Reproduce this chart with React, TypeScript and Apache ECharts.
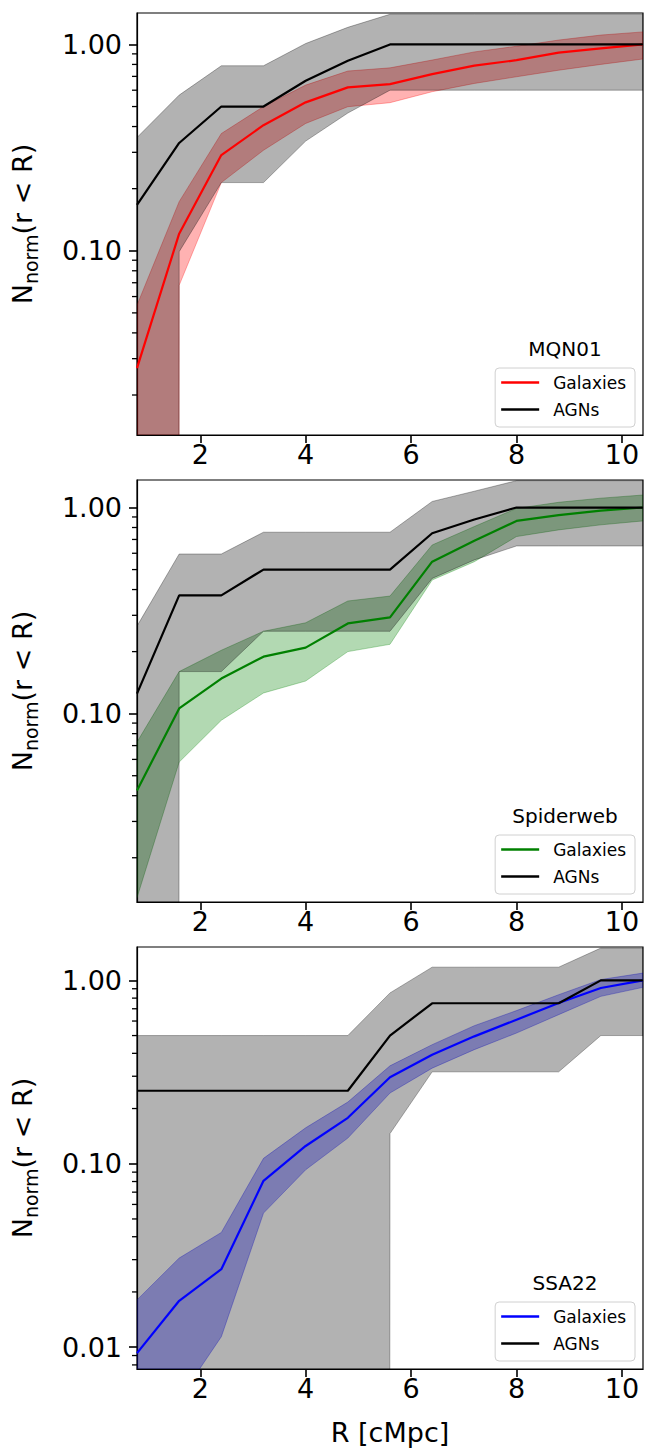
import React, { useEffect, useRef } from 'react';
import * as echarts from 'echarts';

// Radial bins (cMpc)
const radius = [0.8, 1.6, 2.4, 3.2, 4.0, 4.8, 5.6, 6.4, 7.2, 8.0, 8.8, 9.6, 10.4];

const fieldNames = ['MQN01', 'Spiderweb', 'SSA22'];
const galaxyColors = ['#ff0000', '#008000', '#0000ff'];

// MQN01 cumulative normalised counts
const mqnGal = [0.027, 0.121, 0.291, 0.406, 0.524, 0.619, 0.642, 0.718, 0.789, 0.839, 0.912, 0.957, 1.0];
const mqnGalHi = [0.0545, 0.173, 0.37, 0.5, 0.635, 0.743, 0.77, 0.84, 0.92, 0.98, 1.05, 1.11, 1.15];
const mqnGalLo = [0, 0.068, 0.214, 0.307, 0.414, 0.499, 0.522, 0.59, 0.647, 0.697, 0.75, 0.8, 0.85];
const mqnAgn = [0.167, 0.333, 0.5, 0.5, 0.667, 0.833, 1, 1, 1, 1, 1, 1, 1];
const mqnAgnHi = [0.354, 0.568, 0.788, 0.788, 1.01, 1.21, 1.4, 1.4, 1.4, 1.4, 1.4, 1.4, 1.4];
const mqnAgnLo = [0, 0.099, 0.214, 0.214, 0.34, 0.465, 0.6, 0.6, 0.6, 0.6, 0.6, 0.6, 0.6];

// Spiderweb
const spiGal = [0.0424, 0.106, 0.148, 0.189, 0.209, 0.274, 0.293, 0.546, 0.69, 0.861, 0.918, 0.965, 1.0];
const spiGalHi = [0.0728, 0.16, 0.203, 0.251, 0.276, 0.352, 0.372, 0.658, 0.809, 0.99, 1.06, 1.11, 1.15];
const spiGalLo = [0.0128, 0.0582, 0.0929, 0.126, 0.144, 0.2, 0.217, 0.445, 0.546, 0.723, 0.779, 0.824, 0.861];
const spiAgn = [0.125, 0.375, 0.375, 0.5, 0.5, 0.5, 0.5, 0.75, 0.875, 1, 1, 1, 1];
const spiAgnHi = [0.266, 0.595, 0.595, 0.759, 0.759, 0.759, 0.759, 1.07, 1.2, 1.35, 1.35, 1.35, 1.35];
const spiAgnLo = [0, 0.16, 0.16, 0.251, 0.251, 0.251, 0.251, 0.453, 0.557, 0.651, 0.651, 0.651, 0.651];

// SSA22
const ssaGal = [0.00927, 0.0179, 0.0266, 0.0807, 0.125, 0.178, 0.296, 0.393, 0.495, 0.61, 0.752, 0.908, 1.0];
const ssaGalHi = [0.0181, 0.0306, 0.0422, 0.107, 0.157, 0.217, 0.342, 0.446, 0.566, 0.684, 0.835, 1.01, 1.096];
const ssaGalLo = [0.0005, 0.0052, 0.0114, 0.0538, 0.0927, 0.138, 0.243, 0.332, 0.419, 0.516, 0.65, 0.818, 0.916];
const ssaAgn = [0.25, 0.25, 0.25, 0.25, 0.25, 0.25, 0.5, 0.75, 0.75, 0.75, 0.75, 1, 1];
const ssaAgnHi = [0.5, 0.5, 0.5, 0.5, 0.5, 0.5, 0.854, 1.18, 1.18, 1.18, 1.18, 1.5, 1.5];
const ssaAgnLo = [0, 0, 0, 0, 0, 0, 0.146, 0.317, 0.317, 0.317, 0.317, 0.5, 0.5];

const galMid = [mqnGal, spiGal, ssaGal];
const galHi = [mqnGalHi, spiGalHi, ssaGalHi];
const galLo = [mqnGalLo, spiGalLo, ssaGalLo];
const agnMid = [mqnAgn, spiAgn, ssaAgn];
const agnHi = [mqnAgnHi, spiAgnHi, ssaAgnHi];
const agnLo = [mqnAgnLo, spiAgnLo, ssaAgnLo];

// Axis ticks and ranges
const xTickValues = [2, 4, 6, 8, 10];
const yMajorTicks = [0.01, 0.1, 1];
const yMinorTicks = [
  0.008, 0.009,
  0.02, 0.03, 0.04, 0.05, 0.06, 0.07, 0.08, 0.09,
  0.2, 0.3, 0.4, 0.5, 0.6, 0.7, 0.8, 0.9,
];
const xRange = [0.8, 10.4];
const yMin = [0.0128, 0.0122, 0.0076];
const yMax = [1.42, 1.36, 1.52];

// Layout (px)
const WIDTH = 654;
const HEIGHT = 1448;
const PLOT_LEFT = 137;
const PLOT_WIDTH = 506;
const PLOT_HEIGHT = 422;
const PLOT_TOPS = [13, 480, 947];
const MAJOR_TICK_LEN = 8;
const MINOR_TICK_LEN = 5;
const FONT = 'DejaVu Sans';

function rgba(hex: string, a: number): string {
  const n = parseInt(hex.slice(1), 16);
  return `rgba(${(n >> 16) & 255},${(n >> 8) & 255},${n & 255},${a})`;
}

// Shaded uncertainty band; non-positive bounds are pushed far below the axis (log clipping)
function bandRenderer(lo: number[], hi: number[], color: string) {
  return (params: any, api: any) => {
    if (params.dataIndex !== 0) return null;
    const pos = (v: number) => (v > 0 ? v : 1e-300);
    const pts: number[][] = [];
    radius.forEach((r, i) => pts.push(api.coord([r, pos(hi[i])])));
    for (let i = radius.length - 1; i >= 0; i--) pts.push(api.coord([radius[i], pos(lo[i])]));
    const cs = params.coordSys;
    return {
      type: 'polygon',
      shape: { points: pts },
      style: { fill: rgba(color, 0.3), stroke: rgba(color, 0.3), lineWidth: 1 },
      clipPath: { type: 'rect', shape: { x: cs.x, y: cs.y, width: cs.width, height: cs.height } },
    };
  };
}

// Short outward minor tick on the left spine at a log-axis value
function minorTickRenderer(params: any, api: any) {
  const p = api.coord([api.value(0), api.value(1)]);
  return {
    type: 'line',
    shape: { x1: p[0] - MINOR_TICK_LEN, y1: p[1], x2: p[0], y2: p[1] },
    style: { stroke: '#000', lineWidth: 1.3 },
  };
}

function buildOption() {
  const grids: any[] = [];
  const xAxes: any[] = [];
  const yAxes: any[] = [];
  const series: any[] = [];
  const legends: any[] = [];
  const graphics: any[] = [];

  fieldNames.forEach((field, g) => {
    const top = PLOT_TOPS[g];
    grids.push({
      left: PLOT_LEFT,
      top,
      width: PLOT_WIDTH,
      height: PLOT_HEIGHT,
      show: true,
      borderColor: '#000',
      borderWidth: 1.2,
      backgroundColor: 'transparent',
      containLabel: false,
      outerBoundsMode: 'none',
    });
    xAxes.push({
      gridIndex: g,
      type: 'value',
      min: xRange[0],
      max: xRange[1],
      axisLine: { show: true, lineStyle: { color: '#000', width: 1.2 } },
      axisTick: { show: true, length: MAJOR_TICK_LEN, customValues: xTickValues, lineStyle: { color: '#000', width: 1.6 } },
      axisLabel: { customValues: xTickValues, fontSize: 27, color: '#000', fontFamily: FONT, margin: 6 },
      splitLine: { show: false },
      name: g === 2 ? 'R [cMpc]' : '',
      nameLocation: 'middle',
      nameGap: 50,
      nameTextStyle: { fontSize: 27, color: '#000', fontFamily: FONT },
    });
    yAxes.push({
      gridIndex: g,
      type: 'log',
      logBase: 10,
      position: 'left',
      min: yMin[g],
      max: yMax[g],
      axisLine: { show: true, lineStyle: { color: '#000', width: 1.2 } },
      axisTick: { show: true, length: MAJOR_TICK_LEN, customValues: yMajorTicks, lineStyle: { color: '#000', width: 1.6 } },
      axisLabel: {
        customValues: yMajorTicks,
        fontSize: 27,
        color: '#000',
        fontFamily: FONT,
        margin: 15,
        formatter: (v: number) => Number(v).toFixed(2),
      },
      splitLine: { show: false },
      minorTick: { show: false },
      name: '{n|N}{s|norm}{n|(r < R)}',
      nameLocation: 'middle',
      nameRotate: 90,
      nameGap: 97,
      nameTextStyle: {
        color: '#000',
        fontFamily: FONT,
        rich: {
          n: { fontSize: 27, lineHeight: 36, fontFamily: FONT, color: '#000' },
          s: { fontSize: 19, lineHeight: 19, verticalAlign: 'bottom', fontFamily: FONT, color: '#000' },
        },
      },
    });

    const color = galaxyColors[g];
    series.push({
      name: `${field} minor ticks`,
      type: 'custom',
      xAxisIndex: g,
      yAxisIndex: g,
      silent: true,
      clip: false,
      z: 5,
      data: yMinorTicks.filter((v) => v >= yMin[g] && v <= yMax[g]).map((v) => [xRange[0], v]),
      renderItem: minorTickRenderer,
    });
    series.push({
      name: `${field} Galaxies band`,
      type: 'custom',
      xAxisIndex: g,
      yAxisIndex: g,
      silent: true,
      z: 1,
      data: radius.map((r, i) => [r, galMid[g][i]]),
      renderItem: bandRenderer(galLo[g], galHi[g], color),
    });
    series.push({
      name: `${field} AGNs band`,
      type: 'custom',
      xAxisIndex: g,
      yAxisIndex: g,
      silent: true,
      z: 2,
      data: radius.map((r, i) => [r, agnMid[g][i]]),
      renderItem: bandRenderer(agnLo[g], agnHi[g], '#000000'),
    });
    series.push({
      name: `${field} Galaxies`,
      type: 'line',
      xAxisIndex: g,
      yAxisIndex: g,
      z: 3,
      symbol: 'none',
      showSymbol: false,
      clip: true,
      lineStyle: { color, width: 2.2 },
      itemStyle: { color },
      data: radius.map((r, i) => [r, galMid[g][i]]),
    });
    series.push({
      name: `${field} AGNs`,
      type: 'line',
      xAxisIndex: g,
      yAxisIndex: g,
      z: 4,
      symbol: 'none',
      showSymbol: false,
      clip: true,
      lineStyle: { color: '#000', width: 2.2 },
      itemStyle: { color: '#000' },
      data: radius.map((r, i) => [r, agnMid[g][i]]),
    });

    const bottom = top + PLOT_HEIGHT;
    legends.push({
      data: [`${field} Galaxies`, `${field} AGNs`],
      orient: 'vertical',
      right: WIDTH - 635,
      top: bottom - 67,
      formatter: (name: string) => name.slice(field.length + 1),
      icon: 'rect',
      itemWidth: 38,
      itemHeight: 2.5,
      itemGap: 10,
      padding: [6, 9, 9, 6],
      borderColor: '#d0d0d0',
      borderWidth: 1,
      borderRadius: 4,
      backgroundColor: 'rgba(255,255,255,0.8)',
      selectedMode: false,
      textStyle: { fontSize: 17, color: '#000', fontFamily: FONT, padding: [0, 0, 0, 9] },
    });
    graphics.push({
      type: 'text',
      x: 565,
      y: bottom - 86,
      style: {
        text: field,
        fontSize: 20,
        fontFamily: FONT,
        fill: '#000',
        align: 'center',
        verticalAlign: 'middle',
      },
    });
  });

  return {
    animation: false,
    backgroundColor: '#ffffff',
    grid: grids,
    xAxis: xAxes,
    yAxis: yAxes,
    series,
    legend: legends,
    graphic: graphics,
  };
}

export default function App() {
  const ref = useRef<HTMLDivElement>(null);
  useEffect(() => {
    if (!ref.current) return;
    const chart = echarts.init(ref.current, undefined, { renderer: 'svg' });
    chart.setOption(buildOption() as any);
    return () => chart.dispose();
  }, []);
  return (
    <div
      ref={ref}
      style={{ position: 'absolute', left: 0, top: 0, width: WIDTH, height: HEIGHT, background: '#fff' }}
    />
  );
}
